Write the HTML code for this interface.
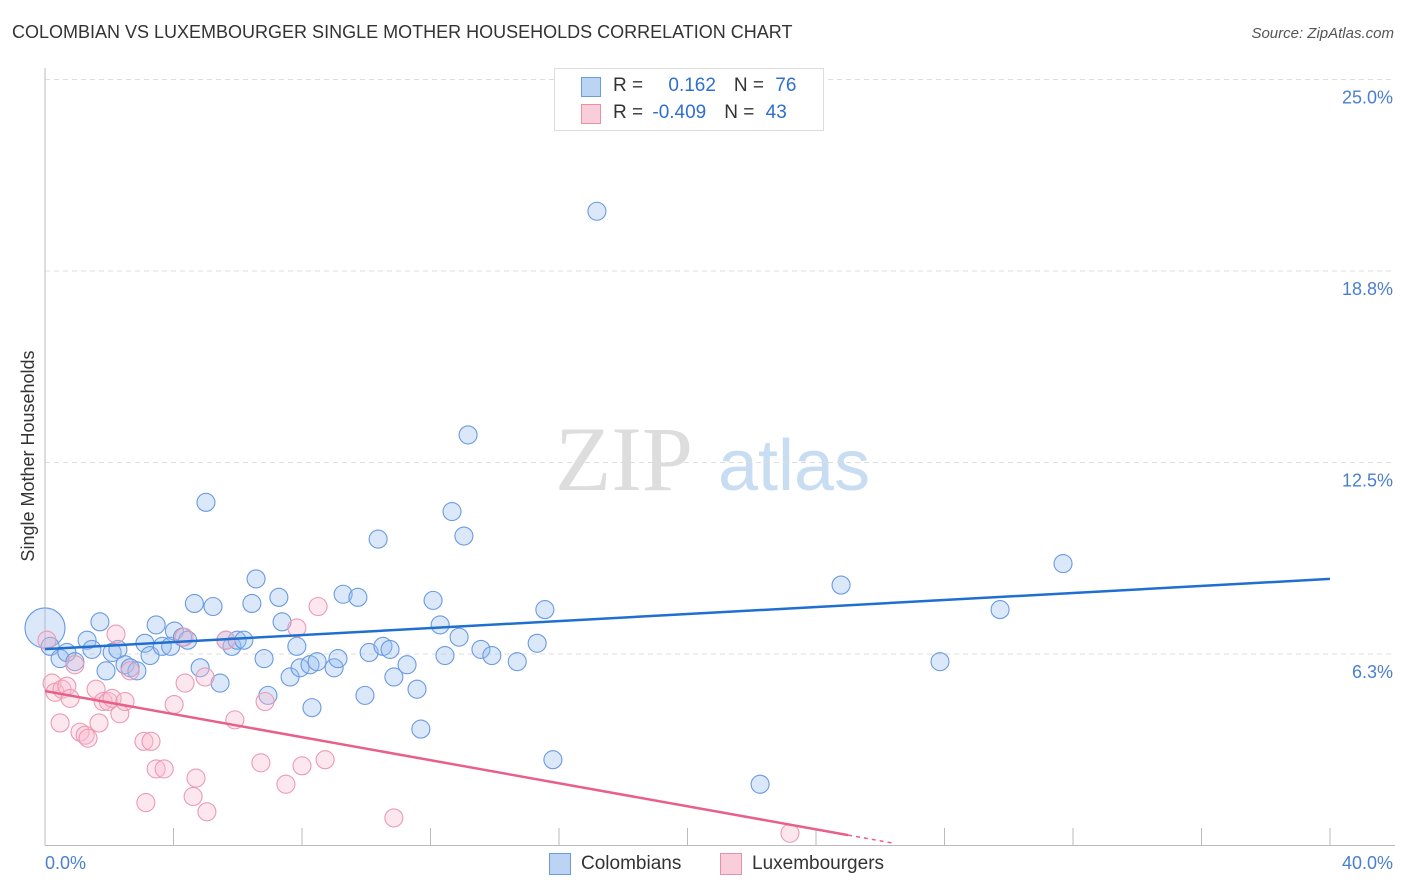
<!DOCTYPE html>
<html><head><meta charset="utf-8"><style>
body{margin:0;background:#fff;font-family:"Liberation Sans",sans-serif}
#wrap{position:relative;width:1406px;height:892px;overflow:hidden}
.t{position:absolute;white-space:nowrap}
</style></head><body>
<div id="wrap">
<div class="t" style="left:12px;top:22px;font-size:18px;color:#333">COLOMBIAN VS LUXEMBOURGER SINGLE MOTHER HOUSEHOLDS CORRELATION CHART</div>
<div class="t" style="right:12px;top:25px;font-size:15px;color:#555;font-style:italic">Source: ZipAtlas.com</div>
<svg id="svg" width="1406" height="892" style="position:absolute;left:0;top:0"></svg>
</div>
<script>
const yTicks=[25.0,18.8,12.5,6.3];
const yTickVals=[25,18.75,12.5,6.25];
const xTickLabels=["0.0%","40.0%"];
const blueX=[0.0,0.16,0.47,0.68,0.93,1.31,1.46,1.71,1.90,2.09,2.27,2.49,2.65,2.86,3.11,3.27,3.46,3.65,3.91,4.03,4.28,4.44,4.65,4.83,5.01,5.23,5.45,5.63,5.82,5.98,6.19,6.44,6.57,6.82,6.94,7.28,7.38,7.63,7.84,7.94,8.25,8.31,8.47,9.00,9.12,9.28,9.74,9.96,10.09,10.37,10.52,10.74,10.86,11.27,11.58,11.70,12.08,12.30,12.45,12.67,12.89,13.04,13.17,13.57,13.91,14.70,15.32,15.56,15.81,17.18,22.26,24.78,27.86,29.73,31.69];
const blueY=[7.1,6.5,6.1,6.3,6.0,6.7,6.4,7.3,5.7,6.3,6.4,5.9,5.8,5.7,6.6,6.2,7.2,6.5,6.5,7.0,6.8,6.7,7.9,5.8,11.2,7.8,5.3,6.7,6.5,6.7,6.7,7.9,8.7,6.1,4.9,8.1,7.3,5.5,6.5,5.8,5.9,4.5,6.0,5.8,6.1,8.2,8.1,4.9,6.3,10.0,6.5,6.4,5.5,5.9,5.1,3.8,8.0,7.2,6.2,10.9,6.8,10.1,13.4,6.4,6.2,6.0,6.6,7.7,2.8,20.7,2.0,8.5,6.0,7.7,9.2];
const pinkX=[0.06,0.22,0.31,0.53,0.68,0.78,0.47,0.93,1.09,1.25,1.34,1.59,1.68,1.81,1.97,2.09,2.21,2.33,2.49,2.65,3.08,3.30,3.46,3.71,3.14,4.02,4.33,4.36,4.61,4.70,4.98,5.04,5.63,5.91,6.72,6.85,7.50,7.84,8.00,8.50,8.72,10.86,23.19];
const pinkY=[6.7,5.3,5.0,5.1,5.2,4.8,4.0,5.9,3.7,3.6,3.5,5.1,4.0,4.7,4.7,4.8,6.9,4.3,4.7,5.7,3.4,3.4,2.5,2.5,1.4,4.6,6.8,5.3,1.6,2.2,5.5,1.1,6.7,4.1,2.7,4.7,2.0,7.1,2.6,7.8,2.8,0.9,0.4];
const blueLine=[6.41,8.70];
const pinkLine=[5.04,0.34];
const pinkLineEnd=25.0;
const X0=45,X1=1330,Y0=845.5,PXY=191.5/6.25;
const sx=v=>X0+(v/40)*(X1-X0);
const sy=v=>Y0-v*PXY;
const svg=document.getElementById('svg');
const NS="http://www.w3.org/2000/svg";
function mk(tag,attrs){const e=document.createElementNS(NS,tag);for(const k in attrs)e.setAttribute(k,attrs[k]);svg.appendChild(e);return e;}
let w=mk('text',{x:555,y:490,'font-size':92,fill:'#ddd','font-family':'Liberation Serif,serif'});w.textContent='ZIP';


let w2=mk('text',{x:718,y:490,'font-size':72,fill:'#c8dcf2','font-family':'Liberation Sans,sans-serif'});w2.textContent='atlas';


yTickVals.forEach((v,i)=>{
 let g=mk('line',{x1:X0,x2:1395,y1:sy(v),y2:sy(v),stroke:'#ddd','stroke-dasharray':'5,4'});
 
 
 let t=mk('text',{x:1393,y:sy(v)+24,'text-anchor':'end','font-size':18,fill:'#4a7fd0'});t.textContent=yTicks[i].toFixed(1)+'%';
 
 
});
let ax=mk('line',{x1:X0,x2:X0,y1:68,y2:Y0,stroke:'#bbb'});


let bx=mk('line',{x1:X0,x2:1395,y1:Y0,y2:Y0,stroke:'#bbb'});


for(let i=0;i<=10;i++){let tk=mk('line',{x1:sx(i*4),x2:sx(i*4),y1:828,y2:Y0,stroke:'#bbb'});
 
 }
let xl=mk('text',{x:45,y:869,'font-size':18,fill:'#4a7fd0'});xl.textContent=xTickLabels[0];


let xr=mk('text',{x:1393,y:869,'text-anchor':'end','font-size':18,fill:'#4a7fd0'});xr.textContent=xTickLabels[1];


let yt=mk('text',{x:0,y:0,'font-size':18,fill:'#333','text-anchor':'middle',transform:'translate(34,456) rotate(-90)'});yt.textContent='Single Mother Households';


blueX.forEach((x,i)=>{let c=mk('circle',{cx:sx(x),cy:sy(blueY[i]),r:i==0?20:9,fill:'rgba(150,190,240,0.35)',stroke:'#6a9ae0','stroke-width':1.1});
 
 });
pinkX.forEach((x,i)=>{let c=mk('circle',{cx:sx(x),cy:sy(pinkY[i]),r:9,fill:'rgba(248,185,205,0.35)',stroke:'#ec9ab2','stroke-width':1.1});
 
 });
let bl=mk('line',{x1:sx(0),y1:sy(blueLine[0]),x2:sx(40),y2:sy(blueLine[1]),stroke:'#1f6fd0','stroke-width':2.5});


let pl=mk('line',{x1:sx(0),y1:sy(pinkLine[0]),x2:sx(pinkLineEnd),y2:sy(pinkLine[1]),stroke:'#e8608a','stroke-width':2.5});


const slope=(pinkLine[1]-pinkLine[0])/pinkLineEnd;
let pd=mk('line',{x1:sx(pinkLineEnd),y1:sy(pinkLine[1]),x2:sx(pinkLineEnd+1.4),y2:sy(pinkLine[1]+slope*1.4),stroke:'#e8608a','stroke-width':1.5,'stroke-dasharray':'4,4'});


</script>
<div class="t" style="left:554px;top:68px;width:268px;height:61px;border:1px solid #ddd;background:#fff">
 <div class="t" style="left:26px;top:8px;width:18px;height:18px;background:#bcd4f3;border:1px solid #6a9ae0"></div>
 <div class="t" style="left:58px;top:6px;font-size:19px;color:#333">R = <span style="color:#2e6fd0;margin-left:20px">0.162</span><span style="margin-left:18px">N = </span><span style="color:#2e6fd0;margin-left:6px">76</span></div>
 <div class="t" style="left:26px;top:35px;width:18px;height:18px;background:#f9cdd9;border:1px solid #e890aa"></div>
 <div class="t" style="left:58px;top:33px;font-size:19px;color:#333">R = <span style="color:#2e6fd0;margin-left:4px">-0.409</span><span style="margin-left:18px">N = </span><span style="color:#2e6fd0;margin-left:6px">43</span></div>
</div>
<div class="t" style="left:549px;top:853px;width:20px;height:20px;background:#bcd4f3;border:1px solid #6a9ae0"></div>
<div class="t" style="left:581px;top:853px;font-size:19px;color:#333">Colombians</div>
<div class="t" style="left:720px;top:853px;width:20px;height:20px;background:#f9cdd9;border:1px solid #e890aa"></div>
<div class="t" style="left:752px;top:853px;font-size:19px;color:#333">Luxembourgers</div>
</body></html>
